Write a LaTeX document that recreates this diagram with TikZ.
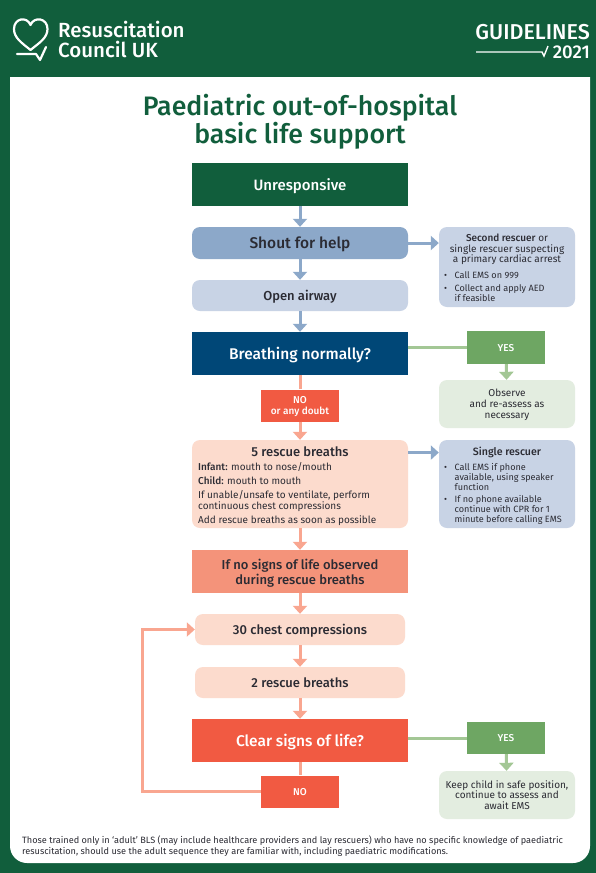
\documentclass[tikz,border=0pt]{standalone}
\usepackage{fontspec}
\setmainfont[BoldFont={Fira Sans Medium}]{Fira Sans}
\usetikzlibrary{arrows.meta}
\definecolor{rcgreen}{HTML}{115E3C}
\definecolor{rcnavy}{HTML}{004777}
\definecolor{rcblue}{HTML}{8CA8C9}
\definecolor{rcpaleblue}{HTML}{C8D3E5}
\definecolor{rcred}{HTML}{F15A42}
\definecolor{rcsalmon}{HTML}{F4937A}
\definecolor{rcpeach}{HTML}{FCDBCD}
\definecolor{rcarrow}{HTML}{F9A690}
\definecolor{rcyes}{HTML}{6EA663}
\definecolor{rcyesline}{HTML}{A3C795}
\definecolor{rcpalegreen}{HTML}{E3EDE0}
\definecolor{rcink}{HTML}{2B2B33}
\tikzset{
    main/.style={minimum width=216pt, inner sep=0pt, text depth=0pt, align=center, font=\fontsize{15}{17}\selectfont\bfseries, text=rcink},
    mainsoft/.style={main, rounded corners=8pt},
    small/.style={minimum width=78pt, minimum height=32pt, inner sep=0pt, text depth=0pt, align=center, text=white, fill=rcred, font=\fontsize{10}{11}\selectfont\bfseries},
    side/.style={minimum width=136pt, inner sep=0pt, text depth=0pt, rounded corners=8pt, align=center, text=rcink, font=\fontsize{10}{10.8}\selectfont},
    blueline/.style={draw=rcblue, line width=3pt, -{Triangle[width=14pt,length=8pt]}},
    redline/.style={draw=rcarrow, line width=3pt, -{Triangle[width=14pt,length=8pt]}},
    greenline/.style={draw=rcyesline, line width=3pt, -{Triangle[width=14pt,length=8pt]}}
}
\newcommand{\rcitem}{\makebox[10.5pt][l]{\textbullet}}
\newcommand{\rcrest}{\hspace{10.5pt}}
\begin{document}
\begin{tikzpicture}[x=1pt, y=-1pt]

    \useasboundingbox (0,0) rectangle (596,873);
    \path[fill=rcgreen] (0,0) rectangle (596,873);
    \path[fill=white] (10,77) -- (590,77) -- (590,846) arc (0:90:17) -- (27,863) arc (90:180:17) -- cycle;

    % logo and header
    \path[draw=white, line width=2.2pt, line join=round] (30.5,50) .. controls (22,43) and (14,38) .. (14,29) .. controls (14,18) and (27,16) .. (30.5,25) .. controls (34,16) and (47.5,18) .. (47.5,29) .. controls (47.5,38) and (39,43) .. (30.5,50) -- cycle;
    \path[draw=white, line width=2.2pt, line cap=round, line join=round] (17,54) -- (36,54) -- (40,60) -- (46,47);
    \node[anchor=west, text=white, align=left, inner sep=0pt, font=\fontsize{20.5}{20}\selectfont\bfseries] (brand) at (58,39.5) {Resuscitation\\Council UK};
    \node[anchor=east, text=white, inner sep=0pt, font=\fontsize{21.5}{21.5}\selectfont\bfseries] (guide) at (590,32) {GUIDELINES};
    \node[anchor=east, text=white, inner sep=0pt, font=\fontsize{18.5}{18.5}\selectfont\bfseries] (year) at (590,52) {2021};
    \path[draw=white, line width=1.4pt] (476,52) -- (542,52) -- (544,56) -- (548,46);

    % title
    \node[align=center, inner sep=0pt, text=rcgreen, font=\fontsize{26.7}{28.5}\selectfont\bfseries] (title) at (300,122) {Paediatric out-of-hospital\\basic life support};

    % draw the main column
    \node[main, fill=rcgreen, text=white, minimum height=43pt] (unresp) at (300,184.5) {Unresponsive};
    \node[mainsoft, fill=rcblue, minimum height=32pt, font=\fontsize{15.5}{17}\selectfont\bfseries] (shout) at (300,243) {Shout for help};
    \node[mainsoft, fill=rcpaleblue, minimum height=31pt, font=\fontsize{13}{14}\selectfont\bfseries] (airway) at (300,295.5) {Open airway};
    \node[main, fill=rcnavy, text=white, minimum height=43pt, font=\fontsize{15.5}{17}\selectfont\bfseries] (breath) at (300,353.5) {Breathing normally?};
    \node[small, fill=rcred] (doubt) at (300,405.5) {NO\\or any doubt};
    \node[mainsoft, fill=rcpeach, minimum height=88pt] (five) at (300,484) {};
    \node[anchor=north, inner sep=0pt, text=rcink, font=\fontsize{13}{15}\selectfont\bfseries] (fivehead) at (300,446) {5 rescue breaths};
    \node[anchor=north west, inner sep=0pt, text=rcink, align=left, font=\fontsize{10}{11.4}\selectfont] (fivetext) at (198,462.5) {\textbf{Infant:} mouth to nose/mouth\\[2.5pt]\textbf{Child:} mouth to mouth\\[2.5pt]If unable/unsafe to ventilate, perform\\continuous chest compressions\\[2.5pt]Add rescue breaths as soon as possible};
    \node[main, fill=rcsalmon, minimum height=43pt, font=\fontsize{13}{15}\selectfont\bfseries] (nosigns) at (300,571.5) {If no signs of life observed\\during rescue breaths};
    \node[mainsoft, fill=rcpeach, minimum width=210pt, minimum height=31pt, font=\fontsize{13}{14}\selectfont\bfseries] (chest) at (300,629.5) {30 chest compressions};
    \node[mainsoft, fill=rcpeach, minimum width=210pt, minimum height=31pt, font=\fontsize{13}{14}\selectfont\bfseries] (breaths) at (300,682.5) {2 rescue breaths};
    \node[main, fill=rcred, text=white, minimum height=43pt, font=\fontsize{15.5}{17}\selectfont\bfseries] (clear) at (300,740.5) {Clear signs of life?};
    \node[small] (no) at (300,791.5) {NO};

    % draw the side boxes
    \node[side, fill=rcpaleblue, minimum height=80pt] (second) at (507,267) {};
    \node[anchor=north, inner sep=0pt, align=center, text=rcink, font=\fontsize{10}{10.8}\selectfont] (secondhead) at (507,233.5) {\textbf{Second rescuer} or\\single rescuer suspecting\\a primary cardiac arrest};
    \node[anchor=north west, inner sep=0pt, align=left, text=rcink, font=\fontsize{9.1}{10}\selectfont] (secondtext) at (444,271) {\rcitem Call EMS on 999\\[3pt]\rcitem Collect and apply AED\\\rcrest if feasible};
    \node[small, fill=rcyes, minimum height=33pt] (yesone) at (506,347.5) {YES};
    \node[side, fill=rcpalegreen, minimum height=48pt] (observe) at (507,404) {Observe\\and re-assess as\\necessary};
    \node[side, fill=rcpaleblue, minimum height=88pt] (single) at (507,484) {};
    \node[anchor=north, inner sep=0pt, text=rcink, font=\fontsize{10.6}{11}\selectfont\bfseries] (singlehead) at (507,447) {Single rescuer};
    \node[anchor=north west, inner sep=0pt, align=left, text=rcink, font=\fontsize{9.1}{10}\selectfont] (singletext) at (444,463) {\rcitem Call EMS if phone\\\rcrest available, using speaker\\\rcrest function\\[2pt]\rcitem If no phone available\\\rcrest continue with CPR for 1\\\rcrest minute before calling EMS};
    \node[small, fill=rcyes, minimum height=32pt] (yestwo) at (506,738) {YES};
    \node[side, fill=rcpalegreen, minimum height=48pt] (keep) at (507,795) {Keep child in safe position,\\continue to assess and\\await EMS};

    % footnote
    \node[anchor=north west, inner sep=0pt, align=left, text=rcink, font=\fontsize{9.15}{10.5}\selectfont] (note) at (22,836) {Those trained only in `adult' BLS (may include healthcare providers and lay rescuers) who have no specific knowledge of paediatric\\resuscitation, should use the adult sequence they are familiar with, including paediatric modifications.};

    % draw the arrows
    \foreach \a/\b in {unresp/shout, shout/airway, airway/breath} {
        \path[blueline] (\a) -- (\b);
    }
    \path[blueline] (shout.east) -- (shout.east -| second.west);
    \coordinate (singlein) at (five.east |- singlehead);
    \path[blueline] (singlein) -- (singlein -| single.west);
    \foreach \a/\b in {doubt/five, five/nosigns, nosigns/chest, chest/breaths, breaths/clear} {
        \path[redline] (\a) -- (\b);
    }
    \foreach \a/\b in {yesone/observe, yestwo/keep} {
        \path[greenline] (\a) -- (\b);
    }
    \path[draw=rcyesline, line width=3pt] (yesone.west -| breath.east) -- (yesone.west);
    \path[draw=rcyesline, line width=3pt] (yestwo.west -| clear.east) -- (yestwo.west);
    \path[draw=rcarrow, line width=3pt] (breath) -- (doubt);
    \path[draw=rcarrow, line width=3pt] (clear) -- (no);
    \path[redline] (no.west) -- (142,791.5) -- (142,629.5) -- (chest.west);

\end{tikzpicture}
\end{document}
